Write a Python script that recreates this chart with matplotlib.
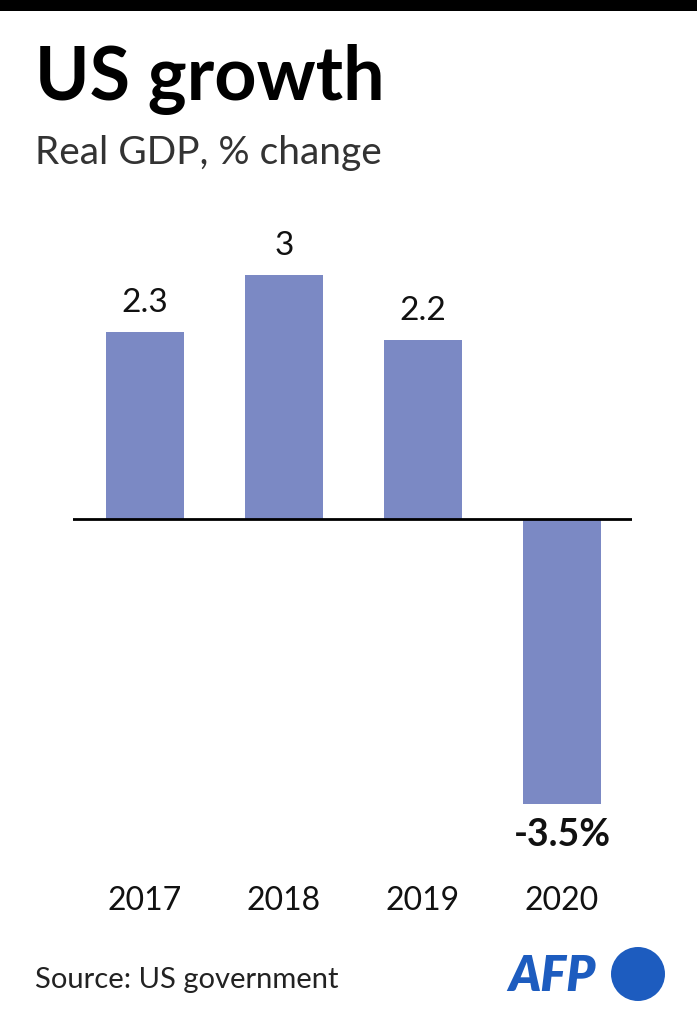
import matplotlib.pyplot as plt
from matplotlib.patches import Rectangle, Ellipse

years = ['2017', '2018', '2019', '2020']
growth = [2.3, 3.0, 2.2, -3.5]
value_labels = ['2.3', '3', '2.2', '-3.5%']

W, H = 697, 1024
fig = plt.figure(figsize=(W / 100, H / 100), dpi=100)
fig.patch.set_facecolor('white')
plt.rcParams['font.family'] = ['Lato', 'DejaVu Sans']

# top black band
fig.add_artist(Rectangle((0, 1 - 11 / H), 1, 11 / H, transform=fig.transFigure,
                         color='black', lw=0))

fig.text(35 / W, 1 - 100 / H, 'US growth', fontsize=53, fontweight='bold',
         ha='left', va='baseline')
fig.text(35 / W, 1 - 164 / H, 'Real GDP, % change', fontsize=28,
         fontweight='normal', ha='left', va='baseline', color='#333333')

# chart area
px_per_unit = 81.35
zero_y = 519
top_px, bot_px = 230, 830
ax = fig.add_axes([73 / W, 1 - bot_px / H, (632 - 73) / W, (bot_px - top_px) / H])
ax.set_xlim(-0.518, 3.504)
ax.set_ylim((zero_y - bot_px) / px_per_unit, (zero_y - top_px) / px_per_unit)
ax.axis('off')

x = range(len(years))
ax.bar(x, growth, width=0.56, color='#7b89c4', zorder=2)
ax.axhline(0, color='black', lw=2, zorder=3)

for i, (v, lab) in enumerate(zip(growth, value_labels)):
    if v >= 0:
        ax.annotate(lab, (i, v), xytext=(0, 10), textcoords='offset points',
                    ha='center', va='bottom', fontsize=24, color='#111111')
    else:
        ax.annotate(lab, (i, v), xytext=(0, -10), textcoords='offset points',
                    ha='center', va='top', fontsize=27, fontweight='bold',
                    color='#111111')

# year labels under the chart
for i, yr in enumerate(years):
    xd = ax.transData.transform((i, 0))[0]
    fig.text(xd / W, 1 - 910 / H, yr, fontsize=23, ha='center', va='baseline',
             color='#111111')

fig.text(35 / W, 1 - 988 / H, 'Source: US government', fontsize=21,
         ha='left', va='baseline', color='#222222')

# AFP logo
fig.text(508 / W, 1 - 991 / H, 'AFP', fontsize=35, fontweight='heavy',
         style='italic', color='#1d5cbf', ha='left', va='baseline')
fig.add_artist(Ellipse((638 / W, 1 - 974 / H), 54 / W, 54 / H,
                       transform=fig.transFigure, color='#1d5cbf', lw=0))

fig.savefig('out.png', dpi=100)
